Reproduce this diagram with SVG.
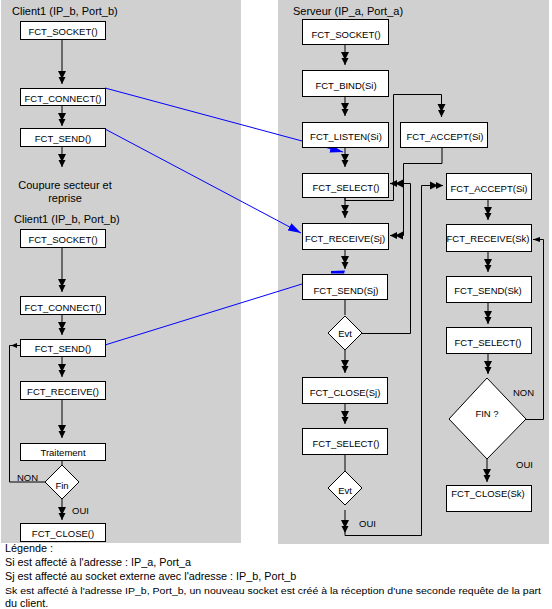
<svg xmlns="http://www.w3.org/2000/svg" width="552" height="609" viewBox="0 0 552 609">
<style>
.panel{fill:#d0d0d0}
.box{fill:#fff;stroke:#000;stroke-width:1}
.ln{fill:none;stroke:#000;stroke-width:1}
.bl{fill:none;stroke:#00f;stroke-width:1}
text{font-family:"Liberation Sans",Arial,sans-serif;font-size:9.5px;fill:#000}
.c{text-anchor:middle}
.lg{font-size:10.8px}
.lg2{font-size:9.6px}
.tt{font-size:11px}
</style>
<defs>
<marker id="ah" markerUnits="userSpaceOnUse" markerWidth="14" markerHeight="10" refX="13" refY="5" orient="auto" viewBox="0 0 14 10">
<path d="M0,1 L6,4 L6,1.5 L13,5 L6,8.5 L6,6 L0,9 Z" fill="#000"/>
</marker>
<marker id="sm" markerUnits="userSpaceOnUse" markerWidth="8" markerHeight="6" refX="7" refY="3" orient="auto" viewBox="0 0 8 6">
<path d="M0,0.5 L7,3 L0,5.5 Z" fill="#000"/>
</marker>
<marker id="ba" markerUnits="userSpaceOnUse" markerWidth="14" markerHeight="10" refX="13" refY="5" orient="auto" viewBox="0 0 14 10">
<path d="M0,1 L13,5 L0,9 Z" fill="#00f"/>
</marker>
</defs>

<rect class="panel" x="1" y="0" width="240" height="543"/>
<rect class="panel" x="278" y="0" width="271" height="544"/>

<g id="labels">
<text class="tt" x="12" y="15">Client1 (IP_b, Port_b)</text>
<text class="tt c" x="65" y="189">Coupure secteur et</text>
<text class="tt c" x="65" y="202">reprise</text>
<text class="tt" x="14" y="223">Client1 (IP_b, Port_b)</text>
<text class="tt" x="293" y="15">Serveur (IP_a, Port_a)</text>
<text x="17" y="481">NON</text>
<text x="72" y="514">OUI</text>
<text x="359" y="527">OUI</text>
<text x="513" y="396">NON</text>
<text x="516" y="468">OUI</text>
</g>

<g id="connectors">
<path class="ln" d="M62,39 V84" marker-end="url(#ah)"/>
<path class="ln" d="M62,105 V126" marker-end="url(#ah)"/>
<path class="ln" d="M62,147 V167" marker-end="url(#ah)"/>
<path class="ln" d="M62,248 V292" marker-end="url(#ah)"/>
<path class="ln" d="M62,315 V335" marker-end="url(#ah)"/>
<path class="ln" d="M62,356 V377" marker-end="url(#ah)"/>
<path class="ln" d="M62,399 V438" marker-end="url(#ah)"/>
<path class="ln" d="M62,460 V465"/>
<path class="ln" d="M62,499 V520" marker-end="url(#ah)"/>
<path class="ln" d="M46,482 H9.5 V345.5 H20"/>
<path d="M11,345.5 L17,343 L17,348 Z" fill="#000"/>

<path class="ln" d="M345,44 V65" marker-end="url(#ah)"/>
<path class="ln" d="M345,96 V116" marker-end="url(#ah)"/>
<path class="ln" d="M345,147 V167" marker-end="url(#ah)"/>
<path class="ln" d="M345,197 V218" marker-end="url(#ah)"/>
<path class="ln" d="M345,249 V269" marker-end="url(#ah)"/>
<path class="ln" d="M345,299 V315"/>
<path class="ln" d="M345,350 V373" marker-end="url(#ah)"/>
<path class="ln" d="M345,403 V424" marker-end="url(#ah)"/>
<path class="ln" d="M345,454 V471"/>
<path class="ln" d="M345,510 V533" marker-end="url(#ah)"/>
<path class="ln" d="M345,533 V535.5 H421.5 V185.5 H443" marker-end="url(#ah)"/>
<path class="ln" d="M345,197 V200.5 H393.5 V94.5 H441.5 V117" marker-end="url(#ah)"/>
<path class="ln" d="M442,147 V163.5 H403.5 V235.5 H390" marker-end="url(#ah)"/>
<path class="ln" d="M362,333.5 H410.5 V183.5 H390" marker-end="url(#ah)"/>

<path class="ln" d="M488,199 V220" marker-end="url(#ah)"/>
<path class="ln" d="M488,251 V272" marker-end="url(#ah)"/>
<path class="ln" d="M488,302 V324" marker-end="url(#ah)"/>
<path class="ln" d="M488,353 V374" marker-end="url(#ah)"/>
<path class="ln" d="M487,459 V482" marker-end="url(#ah)"/>
<path class="ln" d="M526,419.5 H543.5 V239.5 H533" marker-end="url(#sm)"/>

<path class="bl" d="M105,88 L343,152" marker-end="url(#ba)"/>
<path class="bl" d="M105,129 L301,233" marker-end="url(#ba)"/>
<path class="bl" d="M105,345 L302,284"/>
<path d="M331,271 L345,270.5 L344,273.5 L331,273.5 Z" fill="#00f"/>
</g>

<g id="n_c1_socket"><rect class="box" x="20.5" y="21.5" width="85" height="18"/><text x="63" y="35" class="c">FCT_SOCKET()</text></g>
<g id="n_c1_connect"><rect class="box" x="20.5" y="88.5" width="85" height="17"/><text x="63" y="102" class="c">FCT_CONNECT()</text></g>
<g id="n_c1_send"><rect class="box" x="20.5" y="128.5" width="85" height="18"/><text x="63" y="142" class="c">FCT_SEND()</text></g>

<g id="n_c2_socket"><rect class="box" x="20.5" y="229.5" width="85" height="18"/><text x="63" y="243" class="c">FCT_SOCKET()</text></g>
<g id="n_c2_connect"><rect class="box" x="20.5" y="296.5" width="85" height="18"/><text x="63" y="311" class="c">FCT_CONNECT()</text></g>
<g id="n_c2_send"><rect class="box" x="20.5" y="339.5" width="85" height="17"/><text x="63" y="352" class="c">FCT_SEND()</text></g>
<g id="n_c2_receive"><rect class="box" x="20.5" y="381.5" width="85" height="18"/><text x="63" y="395" class="c">FCT_RECEIVE()</text></g>
<g id="n_c2_traitement"><rect class="box" x="20.5" y="443.5" width="85" height="17"/><text x="63" y="456" class="c">Traitement</text></g>
<g id="n_c2_fin"><polygon class="box" points="62,465 79,482 62,499 45,482"/><text x="62" y="489" class="c">Fin</text></g>
<g id="n_c2_close"><rect class="box" x="20.5" y="523.5" width="85" height="18"/><text x="63" y="537" class="c">FCT_CLOSE()</text></g>

<g id="n_s_socket"><rect class="box" x="302.5" y="19.5" width="86" height="25"/><text x="346" y="38" class="c">FCT_SOCKET()</text></g>
<g id="n_s_bind"><rect class="box" x="302.5" y="70.5" width="86" height="26"/><text x="346" y="89" class="c">FCT_BIND(Si)</text></g>
<g id="n_s_listen"><rect class="box" x="302.5" y="122.5" width="86" height="25"/><text x="346" y="140" class="c">FCT_LISTEN(Si)</text></g>
<g id="n_s_select"><rect class="box" x="302.5" y="173.5" width="86" height="24"/><text x="346" y="191" class="c">FCT_SELECT()</text></g>
<g id="n_s_receive"><rect class="box" x="302.5" y="223.5" width="86" height="26"/><text x="345" y="242" class="c">FCT_RECEIVE(Sj)</text></g>
<g id="n_s_send"><rect class="box" x="302.5" y="274.5" width="85" height="25"/><text x="346" y="294" class="c">FCT_SEND(Sj)</text></g>
<g id="n_s_evt1"><polygon class="box" points="345,316 362,333 345,350 328,333"/><text x="345" y="337" class="c">Evt</text></g>
<g id="n_s_close"><rect class="box" x="302.5" y="377.5" width="85" height="26"/><text x="345" y="396" class="c">FCT_CLOSE(Sj)</text></g>
<g id="n_s_select2"><rect class="box" x="302.5" y="428.5" width="85" height="26"/><text x="346" y="447" class="c">FCT_SELECT()</text></g>
<g id="n_s_evt2"><polygon class="box" points="345,471 362,488 345,505 328,488"/><text x="345" y="494" class="c">Evt</text></g>

<g id="n_s_accept1"><rect class="box" x="400.5" y="122.5" width="87" height="25"/><text x="445" y="140" class="c">FCT_ACCEPT(Si)</text></g>
<g id="n_s_accept2"><rect class="box" x="446.5" y="173.5" width="85" height="26"/><text x="489" y="192" class="c">FCT_ACCEPT(Si)</text></g>
<g id="n_k_receive"><rect class="box" x="446.5" y="224.5" width="85" height="27"/><text x="488" y="242" class="c">FCT_RECEIVE(Sk)</text></g>
<g id="n_k_send"><rect class="box" x="446.5" y="276.5" width="85" height="26"/><text x="488" y="294" class="c">FCT_SEND(Sk)</text></g>
<g id="n_k_select"><rect class="box" x="446.5" y="327.5" width="85" height="26"/><text x="488" y="346" class="c">FCT_SELECT()</text></g>
<g id="n_k_fin"><polygon class="box" points="487,378 526,419 487,459 449,419"/><text x="487" y="417" class="c">FIN ?</text></g>
<g id="n_k_close"><rect class="box" x="446.5" y="485.5" width="85" height="26"/><text x="488" y="497" class="c">FCT_CLOSE(Sk)</text></g>

<g id="legend">
<text class="lg" x="5" y="552">Légende :</text>
<text class="lg" x="5" y="566">Si est affecté à l'adresse : IP_a, Port_a</text>
<text class="lg" x="5" y="580">Sj est affecté au socket externe avec l'adresse : IP_b, Port_b</text>
<text class="lg2" x="5" y="594" textLength="536" lengthAdjust="spacingAndGlyphs">Sk est affecté à l'adresse IP_b, Port_b, un nouveau socket est créé à la réception d'une seconde requête de la part</text>
<text class="lg" x="5" y="607">du client.</text>
</g>
</svg>
